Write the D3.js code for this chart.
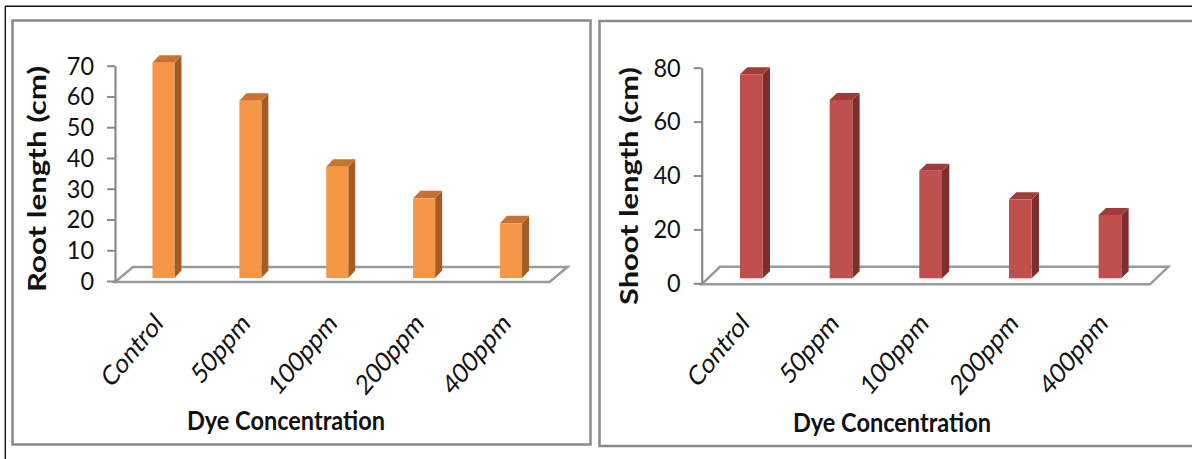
<!DOCTYPE html>
<html>
<head>
<meta charset="utf-8">
<script src="https://cdn.jsdelivr.net/npm/d3@7"></script>
<style>
  html, body { margin: 0; padding: 0; background: #fff; }
  svg { display: block; }
  text { font-family: Lato, "Open Sans", sans-serif; fill: #111; }
</style>
</head>
<body>
<svg id="fig" width="1192" height="459"></svg>
<script>
// Data
const categories = ["Control", "50ppm", "100ppm", "200ppm", "400ppm"];
const rootLength = [70, 57.6, 36.2, 25.9, 17.8];
const shootLength = [75.7, 66.2, 39.9, 29.3, 23.5];
const rootTicks = [0, 10, 20, 30, 40, 50, 60, 70];
const shootTicks = [0, 20, 40, 60, 80];

const svg = d3.select("#fig");

// outer frame
svg.append("line").attr("x1", 5).attr("x2", 1192).attr("y1", 6.3).attr("y2", 6.3)
  .attr("stroke", "#111").attr("stroke-width", 1.4);
svg.append("line").attr("x1", 5.3).attr("x2", 5.3).attr("y1", 6).attr("y2", 459)
  .attr("stroke", "#111").attr("stroke-width", 1.4);

// panel borders
svg.append("rect").attr("x", 12.5).attr("y", 20.5).attr("width", 578).attr("height", 424)
  .attr("fill", "none").attr("stroke", "#8a8a8a").attr("stroke-width", 2.5);
svg.append("rect").attr("x", 599.5).attr("y", 21).attr("width", 620).attr("height", 425)
  .attr("fill", "none").attr("stroke", "#8a8a8a").attr("stroke-width", 2.5);

// lettering is slightly tall and narrow
const STRETCH = 1.2;

function panel(cfg) {
  const g = svg.append("g");
  const y = d3.scaleLinear().domain([0, cfg.max]).range([cfg.y0, cfg.yTop]);
  const x = d3.scalePoint().domain(categories).range([cfg.axisX, cfg.floorRight]).padding(0.5);
  const [ddx, ddy] = cfg.floorDepth;

  // floor
  const fy = cfg.y0 + 1;
  g.append("path")
    .attr("d", `M${cfg.axisX},${fy} L${cfg.axisX + ddx},${fy + ddy} L${cfg.floorRight + ddx},${fy + ddy} L${cfg.floorRight},${fy} Z`)
    .attr("fill", "none").attr("stroke", "#9a9a9a").attr("stroke-width", 2.5);

  // axis
  const axis = d3.axisLeft(y).tickValues(cfg.ticks).tickSize(8).tickSizeOuter(0).tickPadding(13);
  const ag = g.append("g").attr("transform", `translate(${cfg.axisX},0)`).call(axis);
  ag.select(".domain").attr("stroke", "#8a8a8a").attr("stroke-width", 2.2);
  ag.selectAll(".tick line").attr("stroke", "#8a8a8a").attr("stroke-width", 2);
  ag.selectAll(".tick text").attr("font-size", 23.5).attr("font-family", "Lato").attr("fill", "#111")
    .attr("dy", "0.33em").attr("transform", "scale(1,1.08)");

  // bars as boxes: front face, side, top
  const w = cfg.barWidth, [sx, sy] = cfg.barShift, [bx, by] = cfg.barDepth;
  const bars = g.selectAll(".bar").data(cfg.values).join("g").attr("class", "bar");
  const left = (d, i) => x(categories[i]) - w / 2 + sx;
  const base = y(0) + sy;
  const top = d => y(d) + sy;
  bars.append("path").attr("fill", cfg.side)
    .attr("d", (d, i) => {
      const r = left(d, i) + w;
      return `M${r},${base} L${r},${top(d)} L${r + bx},${top(d) + by} L${r + bx},${base + by} Z`;
    });
  bars.append("path").attr("fill", cfg.cap)
    .attr("d", (d, i) => {
      const l = left(d, i), t = top(d);
      return `M${l},${t} L${l + bx},${t + by} L${l + w + bx},${t + by} L${l + w},${t} Z`;
    });
  bars.append("rect").attr("fill", cfg.front)
    .attr("x", left).attr("y", d => top(d)).attr("width", w).attr("height", d => base - top(d));

  // category labels
  g.selectAll(".cat").data(categories).join("text").attr("class", "cat")
    .attr("text-anchor", "end").attr("font-size", 23)
    .attr("transform", c => `translate(${x(c) + cfg.labelDx},${cfg.labelY}) scale(1,${STRETCH}) rotate(-45)`)
    .text(c => c);

  // axis titles
  g.append("text").attr("text-anchor", "middle").attr("font-weight", "bold").attr("font-size", 24)
    .attr("transform", `translate(${cfg.titleX},${cfg.titleY}) rotate(-90)`)
    .attr("textLength", cfg.titleLen).attr("lengthAdjust", "spacingAndGlyphs")
    .text(cfg.title);
  g.append("text").attr("text-anchor", "middle").attr("font-weight", "bold").attr("font-size", 24)
    .attr("transform", `translate(${cfg.xTitleX},${cfg.xTitleY}) scale(1,1.12)`)
    .attr("textLength", 198).attr("lengthAdjust", "spacingAndGlyphs")
    .text("Dye Concentration");
}

panel({
  values: rootLength, ticks: rootTicks, max: 70,
  axisX: 115, y0: 281, yTop: 65.7, floorRight: 549.5, floorDepth: [18, -15],
  barWidth: 22, barShift: [5, -3], barDepth: [7, -7.5],
  front: "#F79646", side: "#A35C26", cap: "#C9712F",
  labelDx: 6, labelY: 325,
  title: "Root length (cm)", titleX: 46, titleY: 179, titleLen: 226,
  xTitleX: 286, xTitleY: 430
});

panel({
  values: shootLength, ticks: shootTicks, max: 80,
  axisX: 701.7, y0: 283.3, yTop: 67.7, floorRight: 1150, floorDepth: [18.3, -17.5],
  barWidth: 22.7, barShift: [4.8, -5], barDepth: [7.3, -7],
  front: "#C0504D", side: "#7E2F2D", cap: "#9F3C39",
  labelDx: 4, labelY: 325,
  title: "Shoot length (cm)", titleX: 638, titleY: 186, titleLen: 238,
  xTitleX: 892, xTitleY: 432
});
</script>
</body>
</html>
